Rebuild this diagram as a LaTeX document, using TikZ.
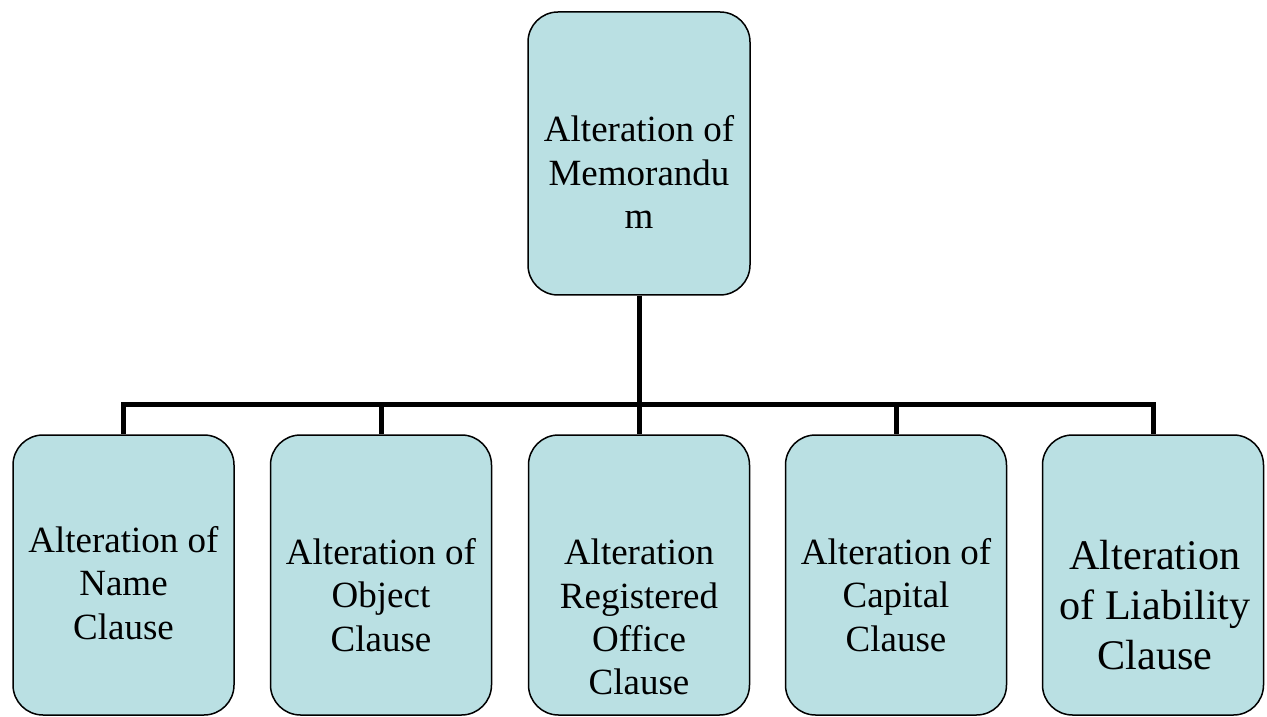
\documentclass[tikz,border=0pt]{standalone}
\usepackage{fontspec}
\setmainfont{Liberation Serif}
\begin{document}
\begin{tikzpicture}[x=1pt,y=1pt,
  box/.style={draw=black,line width=1.5pt,fill=boxfill,rounded corners=30pt,
    minimum width=221pt,minimum height=280pt,inner sep=0pt},
  label/.style={inner sep=0pt,align=center,font=\fontsize{37}{43.3}\selectfont},
  biglabel/.style={inner sep=0pt,align=center,font=\fontsize{42.2}{50}\selectfont},
  link/.style={draw=black,line width=5pt}]
\definecolor{boxfill}{RGB}{186,224,227}
\useasboundingbox (0,0) rectangle (1267,716);

% root box
\node[box,minimum width=222pt,minimum height=283pt] (root) at (639,562.5) {};
\node[label] (roottext) at (639,544) {Alteration of\\Memorandu\\m};

% child boxes
\node[box] (name) at (123.5,141) {};
\node[box] (object) at (381,141) {};
\node[box] (office) at (639,141) {};
\node[box] (capital) at (896,141) {};
\node[box] (liability) at (1153,141) {};

\node[label] (nametext) at (123.5,133) {Alteration of\\Name\\Clause};
\node[label] (objecttext) at (381,121) {Alteration of\\Object\\Clause};
\node[label] (officetext) at (639,99) {Alteration\\Registered\\Office\\Clause};
\node[label] (capitaltext) at (896,121) {Alteration of\\Capital\\Clause};
\node[biglabel] (liabilitytext) at (1155,111) {Alteration\\of Liability\\Clause};

% connectors through a common bus line
\coordinate (bus) at (639,311);
\draw[link] (root.south) -- (bus);
\foreach \c in {name,object,office,capital,liability}
  \draw[link] (bus) -| (\c.north);
\end{tikzpicture}
\end{document}
